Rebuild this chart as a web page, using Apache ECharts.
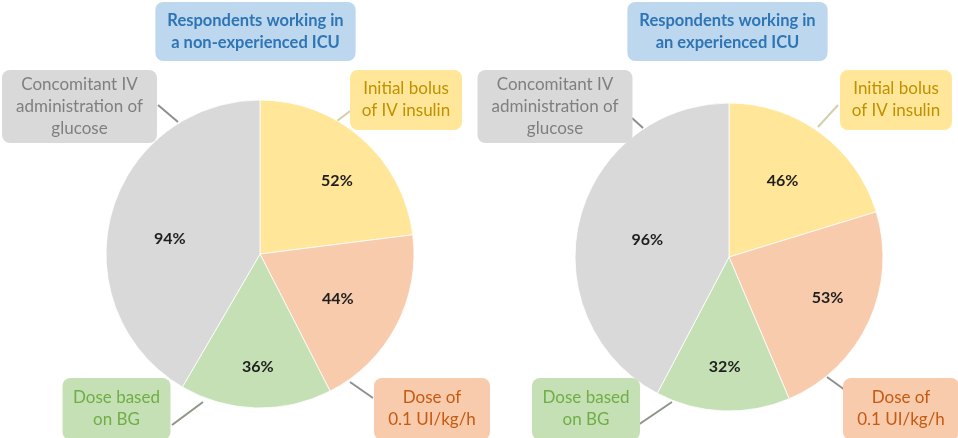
<!DOCTYPE html>
<html><head><meta charset="utf-8">
<script src="https://cdn.jsdelivr.net/npm/echarts@6/dist/echarts.min.js"></script>
<style>html,body{margin:0;padding:0;background:#fff}#c{width:958px;height:438px}</style>
</head><body><div id="c"></div>
<script>
// ---- data ----
const categories = ['Initial bolus\nof IV insulin', 'Dose of\n0.1 UI/kg/h', 'Dose based\non BG', 'Concomitant IV\nadministration of\nglucose'];
const nonExperienced = [52, 44, 36, 94];
const experienced = [46, 53, 32, 96];
const titles = ['Respondents working in\na non-experienced ICU', 'Respondents working in\nan experienced ICU'];

// ---- styles ----
const FONT = 'Lato';
const sliceColors = ['#ffe699', '#f8cbad', '#c5e0b4', '#d9d9d9'];
const textColors = ['#bf9000', '#c55a11', '#70ad47', '#7f7f7f'];
const lineColors = ['#d4d0a8', '#8f8f8f', '#8a9686', '#8f8f8f'];
const boxWidths = [112, 116, 108, 155];
const boxPadV = [8, 9, 9, 3.5];

// leader line segments (annotation layout) [x1,y1,x2,y2] per category
const leadersLeft = [[337, 121, 350, 111], [350, 382, 373, 398], [172, 425, 203, 402], [158, 105, 178, 122]];
const leadersRight = [[818, 127, 838, 105], [827, 377, 845, 390], [638, 425, 672, 402], [632, 118, 643, 128]];

const rich = {};
categories.forEach((c, i) => {
  rich['t' + i] = { width: boxWidths[i] - 12, align: 'center', color: textColors[i], fontFamily: FONT, fontSize: 17, lineHeight: 22 };
});

function makePies(values, center, pctOffsets, boxPos) {
  const base = {
    type: 'pie', center: center, radius: 154, startAngle: 90, clockwise: true,
    avoidLabelOverlap: false, silent: true, animation: false,
    emphasis: { disabled: true }
  };
  const main = Object.assign({}, base, {
    data: values.map((v, i) => ({ name: categories[i], value: v, itemStyle: { color: sliceColors[i] } })),
    itemStyle: { borderColor: 'rgba(255,255,255,0.8)', borderWidth: 1 },
    label: { position: 'inside', formatter: '{c}%', fontFamily: FONT, fontWeight: 'bold', fontSize: 16, color: '#1e1e1e' },
    labelLine: { show: false },
    labelLayout: p => ({ dx: pctOffsets[p.dataIndex][0], dy: pctOffsets[p.dataIndex][1] })
  });
  const overlay = Object.assign({}, base, {
    data: values.map((v, i) => ({
      name: categories[i], value: v,
      itemStyle: { color: 'rgba(0,0,0,0)' },
      label: {
        formatter: () => categories[i].split('\n').map(s => '{t' + i + '|' + s + '}').join('\n'),
        backgroundColor: sliceColors[i],
        padding: [boxPadV[i], 6]
      }
    })),
    label: {
      show: true, position: 'outside', rich: rich, fontFamily: FONT, fontSize: 17,
      lineHeight: 22, borderRadius: 8
    },
    labelLine: { show: false },
    labelLayout: p => ({ x: boxPos[p.dataIndex][0], y: boxPos[p.dataIndex][1], align: 'center', verticalAlign: 'middle' })
  });
  return [main, overlay];
}

const leaderGraphics = leadersLeft.concat(leadersRight).map((s, k) => ({
  type: 'line', silent: true,
  shape: { x1: s[0], y1: s[1], x2: s[2], y2: s[3] },
  style: { stroke: lineColors[k % 4], lineWidth: 2 }
}));

const chart = echarts.init(document.getElementById('c'), null, { renderer: 'canvas' });
const titleStyle = { fontFamily: FONT, fontSize: 16.5, fontWeight: 'bold', color: '#2e75b6', lineHeight: 22 };
chart.setOption({
  backgroundColor: '#ffffff',
  animation: false,
  title: [
    { text: titles[0], left: 255.5 - 12, top: 2, textAlign: 'center', padding: [7.5, 12], backgroundColor: '#bdd7ee', borderRadius: 8, textStyle: titleStyle },
    { text: titles[1], left: 727.5 - 12, top: 2, textAlign: 'center', padding: [7.5, 12], backgroundColor: '#bdd7ee', borderRadius: 8, textStyle: titleStyle }
  ],
  graphic: leaderGraphics,
  series: [
    ...makePies(nonExperienced, [260, 254],
      [[24, -13], [7, 7], [0, 33], [-13, 6]],
      [[406, 100], [432, 409], [116.5, 409], [79.5, 106.5]]),
    ...makePies(experienced, [729, 257],
      [[6, -12], [26, 7], [-1, 30], [-4, 2]],
      [[896, 100], [901, 409], [586, 409], [555, 106.5]])
  ]
});
</script>
</body></html>
